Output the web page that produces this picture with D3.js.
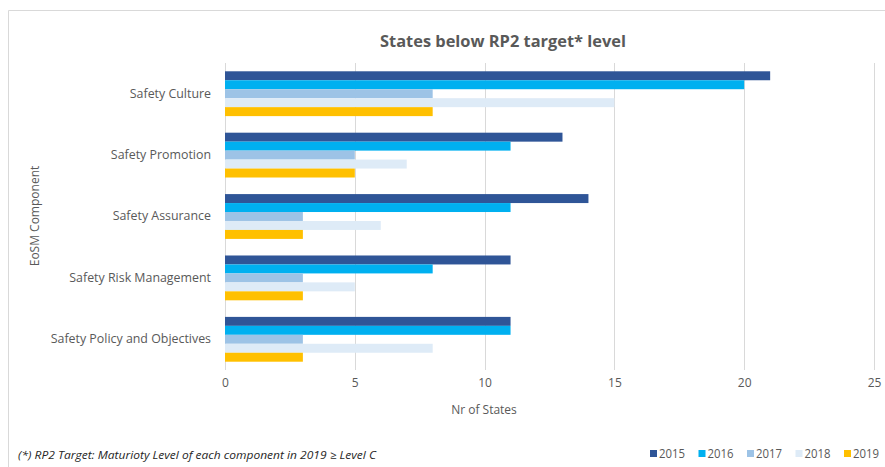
<!DOCTYPE html>
<html>
<head>
<meta charset="utf-8">
<script src="https://cdnjs.cloudflare.com/ajax/libs/d3/7.8.5/d3.min.js"></script>
<style>
  html, body { margin: 0; padding: 0; background: #fff; }
  svg { display: block; }
  text { font-family: "Open Sans", "Liberation Sans", sans-serif; }
</style>
</head>
<body>
<svg id="chart" width="885" height="467"></svg>
<script>
// Components, listed top to bottom
const components = [
  "Safety Culture",
  "Safety Promotion",
  "Safety Assurance",
  "Safety Risk Management",
  "Safety Policy and Objectives"
];
const years = ["2015", "2016", "2017", "2018", "2019"];

// Number of states below target, per component, for each year
const values2015 = [21, 13, 14, 11, 11];
const values2016 = [20, 11, 11, 8, 11];
const values2017 = [8, 5, 3, 3, 3];
const values2018 = [15, 7, 6, 5, 8];
const values2019 = [8, 5, 3, 3, 3];

const xTicks = [0, 5, 10, 15, 20, 25];
const yearColors = ["#2F5597", "#00B0F0", "#9DC3E6", "#DEEBF7", "#FFC000"];

const series = [values2015, values2016, values2017, values2018, values2019];
const rows = [];
components.forEach((c, i) => {
  years.forEach((y, j) => rows.push({ component: c, year: y, value: series[j][i] }));
});

const svg = d3.select("#chart");
const margin = { left: 225, right: 11, top: 63, bottom: 97 };
const W = 885, H = 467;

// outer chart frame
svg.append("path")
  .attr("d", `M8.5,${H} V10.5 H${W}`)
  .attr("fill", "none")
  .attr("stroke", "#D9D9D9")
  .attr("stroke-width", 1);

const x = d3.scaleLinear().domain([0, 25]).range([margin.left, W - margin.right]);
const y0 = d3.scaleBand().domain(components).range([margin.top, H - margin.bottom]).paddingInner(0.27).paddingOuter(0.135);
const y1 = d3.scaleBand().domain(years).range([0, y0.bandwidth()]);
const color = d3.scaleOrdinal().domain(years).range(yearColors);

// vertical gridlines
svg.append("g")
  .selectAll("line")
  .data(xTicks)
  .join("line")
  .attr("x1", d => Math.round(x(d)) + 0.5)
  .attr("x2", d => Math.round(x(d)) + 0.5)
  .attr("y1", margin.top)
  .attr("y2", H - margin.bottom)
  .attr("stroke", "#D9D9D9")
  .attr("stroke-width", 1);

// bars
svg.append("g")
  .selectAll("rect")
  .data(rows)
  .join("rect")
  .attr("x", x(0))
  .attr("y", d => y0(d.component) + y1(d.year))
  .attr("width", d => x(d.value) - x(0))
  .attr("height", y1.bandwidth())
  .attr("fill", d => color(d.year));

// x axis tick labels
const xAxis = d3.axisBottom(x).tickValues(xTicks).tickSize(0).tickPadding(0);
const gx = svg.append("g").attr("transform", `translate(0,${H - margin.bottom + 8})`).call(xAxis);
gx.select(".domain").remove();
gx.selectAll("text")
  .attr("dy", "0.71em")
  .attr("font-size", 12)
  .attr("font-family", "Open Sans, sans-serif")
  .attr("fill", "#595959");

// y axis category labels
const yAxis = d3.axisLeft(y0).tickSize(0).tickPadding(14);
const gy = svg.append("g").attr("transform", `translate(${margin.left},0)`).call(yAxis);
gy.select(".domain").remove();
gy.selectAll("text")
  .attr("font-size", 12.4)
  .attr("font-family", "Open Sans, sans-serif")
  .attr("fill", "#595959");

// title
svg.append("text")
  .attr("x", 503).attr("y", 47)
  .attr("text-anchor", "middle")
  .attr("font-size", 16.4)
  .attr("font-weight", "bold")
  .attr("fill", "#595959")
  .text("States below RP2 target* level");

// axis titles
svg.append("text")
  .attr("x", 484).attr("y", 414)
  .attr("text-anchor", "middle")
  .attr("font-size", 12)
  .attr("fill", "#595959")
  .text("Nr of States");

svg.append("text")
  .attr("transform", "translate(39,216) rotate(-90)")
  .attr("text-anchor", "middle")
  .attr("font-size", 12)
  .attr("fill", "#595959")
  .text("EoSM Component");

// footnote
svg.append("text")
  .attr("x", 18).attr("y", 459)
  .attr("font-size", 11)
  .attr("font-style", "italic")
  .attr("fill", "#262626")
  .attr("textLength", 358)
  .attr("lengthAdjust", "spacingAndGlyphs")
  .text("(*) RP2 Target: Maturioty Level of each component in 2019 \u2265 Level C");

// legend
const legend = svg.append("g")
  .selectAll("g")
  .data(years)
  .join("g")
  .attr("transform", (d, i) => `translate(${650 + i * 48.5},450)`);
legend.append("rect")
  .attr("width", 7).attr("height", 7)
  .attr("fill", d => color(d));
legend.append("text")
  .attr("x", 9).attr("y", 7.5)
  .attr("font-size", 12)
  .attr("fill", "#595959")
  .attr("textLength", 26)
  .attr("lengthAdjust", "spacingAndGlyphs")
  .text(d => d);
</script>
</body>
</html>
